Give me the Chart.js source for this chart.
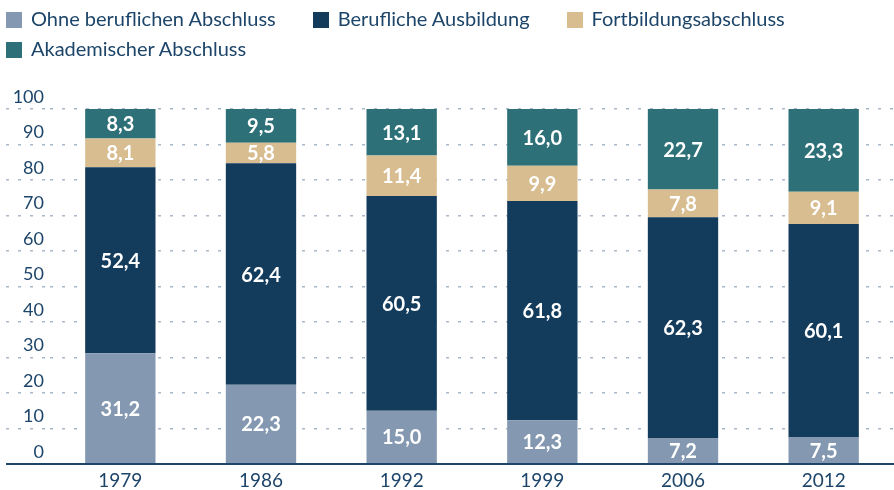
<!DOCTYPE html>
<html>
<head>
<meta charset="utf-8">
<script src="https://cdn.jsdelivr.net/npm/chart.js@4.4.1/dist/chart.umd.min.js"></script>
<style>
  html, body { margin: 0; padding: 0; background: #fff; }
  #wrap { position: relative; width: 894px; height: 490px; }
  #legend { position: absolute; left: 6px; top: 3px; width: 888px; font-family: Lato, sans-serif; font-size: 20px; color: #1d4569; line-height: 30px; }
  #legend span.item { display: inline-block; margin-right: 37px; white-space: nowrap; }
  #legend span.box { display: inline-block; width: 16px; height: 16px; margin-right: 9px; vertical-align: -2px; }
</style>
</head>
<body>
<div id="wrap">
  <canvas id="canvas" width="894" height="490"></canvas>
  <div id="legend"></div>
</div>
<script>
var years = ["1979", "1986", "1992", "1999", "2006", "2012"];
var ohneAbschluss = [31.2, 22.3, 15.0, 12.3, 7.2, 7.5];
var beruflicheAusbildung = [52.4, 62.4, 60.5, 61.8, 62.3, 60.1];
var fortbildung = [8.1, 5.8, 11.4, 9.9, 7.8, 9.1];
var akademisch = [8.3, 9.5, 13.1, 16.0, 22.7, 23.3];
var seriesNames = ["Ohne beruflichen Abschluss", "Berufliche Ausbildung", "Fortbildungsabschluss", "Akademischer Abschluss"];
var seriesColors = ["#8499b1", "#133b5c", "#d8bd91", "#2e7078"];

var navy = "#1d4569";
var gridColor = "#a9b8cb";

// Zahlen in die Balken schreiben
var valueLabels = {
    id: "valueLabels",
    afterDatasetsDraw: function(chart) {
        var ctx = chart.ctx;
        ctx.save();
        ctx.fillStyle = "#ffffff";
        ctx.font = "bold 20px Lato, sans-serif";
        ctx.textAlign = "center";
        ctx.textBaseline = "middle";
        chart.data.datasets.forEach(function(ds, i) {
            var meta = chart.getDatasetMeta(i);
            meta.data.forEach(function(bar, j) {
                var txt = ds.data[j].toFixed(1).replace(".", ",");
                ctx.fillText(txt, bar.x, (bar.y + bar.base) / 2 + 1);
            });
        });
        ctx.restore();
    }
};

var allData = [ohneAbschluss, beruflicheAusbildung, fortbildung, akademisch];
var datasets = [];
for (var i = 0; i < allData.length; i++) {
    datasets.push({
        label: seriesNames[i],
        data: allData[i],
        backgroundColor: seriesColors[i],
        borderWidth: 0,
        barPercentage: 0.5,
        categoryPercentage: 1.0
    });
}

var legend = document.getElementById("legend");
for (var k = 0; k < seriesNames.length; k++) {
    var item = document.createElement("span");
    item.className = "item";
    item.innerHTML = '<span class="box" style="background:' + seriesColors[k] + '"></span>' + seriesNames[k];
    legend.appendChild(item);
}

new Chart("canvas", {
    type: "bar",
    data: { labels: years, datasets: datasets },
    options: {
        responsive: false,
        animation: false,
        layout: { padding: { top: 109, left: 0, right: 0, bottom: 0 } },
        plugins: {
            legend: { display: false },
            tooltip: { enabled: false }
        },
        scales: {
            x: {
                stacked: true,
                grid: { display: false, drawTicks: false },
                border: { display: true, color: navy, width: 2 },
                ticks: { color: navy, font: { family: "Lato", size: 19 }, padding: 5 },
                afterFit: function(s) { s.height = 26; }
            },
            y: {
                stacked: true,
                min: 0,
                max: 100,
                ticks: {
                    stepSize: 10,
                    color: navy,
                    font: { family: "Lato", size: 18 },
                    padding: -38,
                    labelOffset: -12
                },
                border: { display: false, dash: [3, 9] },
                grid: {
                    tickLength: 44,
                    color: function(c) { return c.tick && c.tick.value === 0 ? navy : gridColor; },
                    tickColor: function(c) { return c.tick && c.tick.value === 0 ? navy : gridColor; },
                    lineWidth: function(c) { return c.tick && c.tick.value === 0 ? 2 : 1.5; },
                    tickWidth: function(c) { return c.tick && c.tick.value === 0 ? 2 : 1.5; },
                    tickBorderDash: function(c) { return c.tick && c.tick.value === 0 ? [] : [3, 9]; }
                },
                afterFit: function(s) { s.width = 50; }
            }
        }
    },
    plugins: [valueLabels]
});
</script>
</body>
</html>
